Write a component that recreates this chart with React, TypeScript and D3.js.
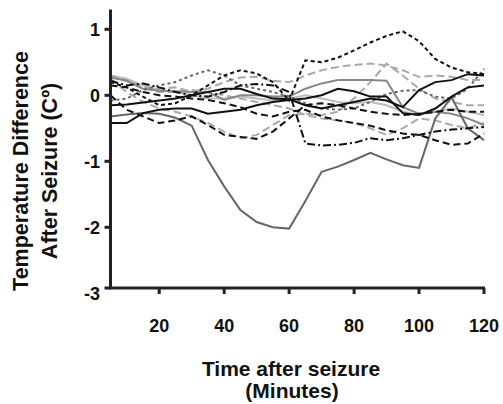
import * as d3 from "d3";

// minutes after seizure
const minutes = [5, 10, 15, 20, 25, 30, 35, 40, 45, 50, 55, 60, 65, 70, 75, 80, 85, 90, 95, 100, 105, 110, 115, 120];
const xTicks = [20, 40, 60, 80, 100, 120];
const yTicks = [1, 0, -1, -2, -3];

// temperature difference per animal (C)
const lightSolid = [0.3, 0.25, 0.15, 0.08, 0.05, 0.0, -0.05, -0.05, -0.02, -0.05, -0.08, -0.05, 0.0, -0.05, -0.1, -0.12, -0.1, -0.15, -0.25, -0.3, -0.25, -0.2, -0.25, -0.3];
const lightDashedA = [0.25, 0.05, -0.1, -0.2, -0.25, -0.32, -0.42, -0.55, -0.65, -0.6, -0.45, -0.3, -0.28, -0.3, -0.25, -0.05, 0.2, 0.48, 0.3, 0.1, -0.05, -0.1, -0.15, -0.15];
const lightDashedB = [0.28, 0.22, 0.12, 0.1, 0.12, 0.05, 0.1, 0.2, 0.27, 0.28, 0.22, 0.2, 0.3, 0.38, 0.43, 0.46, 0.48, 0.45, 0.38, 0.28, 0.3, 0.28, 0.23, 0.23];
const lightDashedC = [0.3, 0.22, 0.12, 0.05, 0.05, 0.08, 0.05, 0.0, -0.05, -0.1, -0.15, -0.2, -0.3, -0.35, -0.38, -0.42, -0.5, -0.6, -0.5, -0.35, -0.38, -0.45, -0.5, -0.42];
const greySolid = [0.27, 0.22, 0.1, 0.07, 0.06, 0.05, 0.05, -0.07, 0.0, 0.0, -0.02, -0.02, 0.1, 0.18, 0.23, 0.23, 0.23, 0.22, -0.18, -0.28, -0.25, -0.28, -0.35, -0.45];
const greyDip = [-0.32, -0.29, -0.27, -0.28, -0.34, -0.46, -0.98, -1.38, -1.74, -1.92, -2.0, -2.02, -1.6, -1.16, -1.08, -0.98, -0.87, -0.97, -1.06, -1.1, -0.35, -0.03, -0.5, -0.68];
const greyDotted = [-0.08, -0.05, 0.08, 0.15, 0.2, 0.3, 0.38, 0.3, 0.15, 0.1, 0.05, -0.02, -0.12, -0.2, -0.22, -0.2, -0.1, 0.02, 0.07, 0.08, -0.02, -0.05, 0.1, 0.4];
const blackDotted = [0.2, 0.12, -0.02, -0.15, -0.12, 0.0, 0.15, 0.3, 0.38, 0.33, 0.2, -0.08, 0.53, 0.5, 0.57, 0.68, 0.8, 0.9, 0.97, 0.82, 0.55, 0.42, 0.35, 0.32];
const blackDashDot = [0.22, 0.15, 0.18, 0.12, 0.05, 0.0, -0.02, 0.05, 0.15, 0.17, 0.15, 0.05, -0.73, -0.76, -0.75, -0.72, -0.65, -0.68, -0.65, -0.6, -0.55, -0.52, -0.5, -0.48];
const blackDashedA = [0.0, -0.22, -0.32, -0.42, -0.38, -0.32, -0.45, -0.6, -0.63, -0.66, -0.55, -0.35, -0.15, -0.12, -0.15, -0.2, -0.25, -0.28, -0.3, -0.28, -0.25, -0.22, -0.25, -0.25];
const blackDashedB = [0.15, 0.12, 0.05, 0.0, -0.02, -0.05, -0.07, -0.12, -0.18, -0.28, -0.32, -0.25, -0.22, -0.32, -0.38, -0.42, -0.46, -0.53, -0.58, -0.6, -0.68, -0.75, -0.73, -0.58];
const blackSolidA = [-0.15, -0.14, -0.11, -0.08, -0.05, 0.0, 0.05, 0.1, 0.1, 0.02, -0.05, -0.06, -0.15, -0.2, -0.15, -0.1, -0.05, -0.08, -0.18, 0.08, 0.2, 0.23, 0.32, 0.3];
const blackSolidB = [-0.42, -0.42, -0.27, -0.22, -0.2, -0.2, -0.28, -0.25, -0.22, -0.15, -0.1, -0.07, -0.05, 0.0, 0.1, 0.06, -0.02, -0.02, -0.27, -0.3, -0.2, -0.02, 0.12, 0.15];

const series = [
  { values: lightSolid, stroke: "#bdbdbd", dash: "" },
  { values: lightDashedA, stroke: "#aaa", dash: "8,4" },
  { values: lightDashedB, stroke: "#aaa", dash: "8,4" },
  { values: lightDashedC, stroke: "#aaa", dash: "8,4" },
  { values: greySolid, stroke: "#888", dash: "" },
  { values: greyDip, stroke: "#666", dash: "" },
  { values: greyDotted, stroke: "#666", dash: "3,3" },
  { values: blackDotted, stroke: "#111", dash: "4,3" },
  { values: blackDashDot, stroke: "#111", dash: "8,3,2,3" },
  { values: blackDashedA, stroke: "#111", dash: "7,4" },
  { values: blackDashedB, stroke: "#111", dash: "7,4" },
  { values: blackSolidA, stroke: "#111", dash: "" },
  { values: blackSolidB, stroke: "#111", dash: "" },
];

const W = 503;
const H = 404;
const font = "'Liberation Sans', Arial, sans-serif";

export default function App() {
  const x = d3.scaleLinear().domain([5, 120]).range([110.5, 484]);
  const y = d3.scaleLinear().domain([-3, 1]).range([293.3, 29.3]);
  const axisY = y(-2.92);

  const line = d3
    .line<number>()
    .x((_, i) => x(minutes[i]))
    .y((d) => y(d));

  return (
    <>
      <style>{`body{margin:0}`}</style>
      <svg width={W} height={H} style={{ display: "block", background: "#fff" }} fontFamily={font}>
        {series.map((s, i) => (
          <path
            key={i}
            d={line(s.values) ?? ""}
            fill="none"
            stroke={s.stroke}
            strokeWidth={2}
            strokeDasharray={s.dash || undefined}
          />
        ))}

        {/* y axis */}
        <line x1={x(5)} x2={x(5)} y1={y(1.3)} y2={axisY} stroke="#222" strokeWidth={3} />
        {yTicks.map((t) => {
          const ty = t === -3 ? axisY : y(t);
          return (
            <g key={t}>
              <line x1={x(5) - 6} x2={x(5)} y1={ty} y2={ty} stroke="#222" strokeWidth={3} />
              <text x={100} y={y(t)} dy="0.35em" textAnchor="end" fontSize={18} fontWeight="bold" fill="#111">
                {t}
              </text>
            </g>
          );
        })}

        {/* x axis */}
        <line x1={x(5) - 1.5} x2={x(120) + 1} y1={axisY} y2={axisY} stroke="#222" strokeWidth={3} />
        {xTicks.map((t) => (
          <g key={t}>
            <line x1={x(t)} x2={x(t)} y1={axisY} y2={axisY + 6} stroke="#222" strokeWidth={3} />
            <text x={x(t)} y={332} textAnchor="middle" fontSize={18} fontWeight="bold" fill="#111">
              {t}
            </text>
          </g>
        ))}

        <text x={291} y={376} textAnchor="middle" fontSize={21} fontWeight="bold" fill="#111">
          Time after seizure
        </text>
        <text x={292} y={397.5} textAnchor="middle" fontSize={21} fontWeight="bold" fill="#111">
          (Minutes)
        </text>

        <g transform="translate(0,171) rotate(-90)">
          <text x={0} y={28} textAnchor="middle" fontSize={21.5} fontWeight="bold" fill="#111">
            Temperature Difference
          </text>
          <text x={0} y={56.5} textAnchor="middle" fontSize={21.5} fontWeight="bold" fill="#111">
            After Seizure (Cº)
          </text>
        </g>
      </svg>
    </>
  );
}
